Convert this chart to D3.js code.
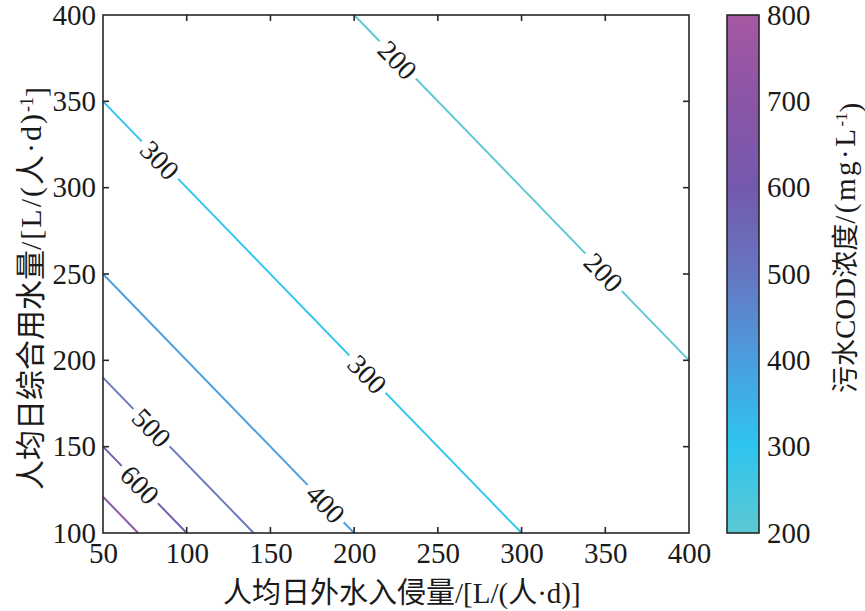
<!DOCTYPE html>
<html>
<head>
    <meta charset="utf-8">
    <title>COD contour</title>
    <script src="https://d3js.org/d3.v7.min.js"></script>
    <style>
        body { margin: 0; background: white; }
        text { font-family: "Liberation Serif", "Times New Roman", "Noto Sans CJK SC", serif; fill: #1a1a1a; }
    </style>
</head>
<body>
    <script>
        // data
        const xTicks = [50, 100, 150, 200, 250, 300, 350, 400];
        const yTicks = [100, 150, 200, 250, 300, 350, 400];
        const cbTicks = [200, 300, 400, 500, 600, 700, 800];

        const levels = [200, 300, 400, 500, 600, 700];
        // each contour is a straight segment: start and end point [x, y]
        const lineStart = [[200, 400], [50, 350], [50, 250], [50, 190], [50, 150], [50, 121]];
        const lineEnd = [[400, 200], [300, 100], [200, 100], [140, 100], [100, 100], [71, 100]];
        // x positions of the inline labels on each contour
        const labelX = [[226, 349], [84, 208], [183], [79], [72], []];

        const width = 865;
        const height = 611;
        const pLeft = 103, pRight = 689, pTop = 15, pBottom = 533;

        const xScale = d3.scaleLinear().domain([50, 400]).range([pLeft, pRight]);
        const yScale = d3.scaleLinear().domain([100, 400]).range([pBottom, pTop]);
        const cScale = d3.scaleLinear().domain([200, 800]).range([pBottom, pTop]);

        // colormap stops (value -> colour)
        const cmapVals = [200, 300, 400, 500, 600, 700, 800];
        const cmapCols = ["#5cc8d3", "#2ec5ef", "#4a9ede", "#6676c2", "#7459ae", "#8a55a6", "#a658a2"];
        const color = d3.scaleLinear().domain(cmapVals).range(cmapCols);

        const svg = d3.select("body").append("svg")
            .attr("width", width)
            .attr("height", height);

        const axisColor = "#262626";

        // contour lines
        const g = svg.append("g");
        levels.forEach((lv, i) => {
            const p0 = lineStart[i], p1 = lineEnd[i];
            g.append("line")
                .attr("x1", xScale(p0[0])).attr("y1", yScale(p0[1]))
                .attr("x2", xScale(p1[0])).attr("y2", yScale(p1[1]))
                .attr("stroke", color(lv))
                .attr("stroke-width", 1.9);

            const ang = Math.atan2(yScale(p1[1]) - yScale(p0[1]), xScale(p1[0]) - xScale(p0[0])) * 180 / Math.PI;
            labelX[i].forEach(lx => {
                const t = (lx - p0[0]) / (p1[0] - p0[0]);
                const ly = p0[1] + t * (p1[1] - p0[1]);
                const lg = g.append("g")
                    .attr("transform", `translate(${xScale(lx)},${yScale(ly)}) rotate(${ang})`);
                const txt = lg.append("text")
                    .attr("text-anchor", "middle")
                    .attr("dy", "0.35em")
                    .style("font-size", "28px")
                    .text(lv);
                const w = txt.node().getComputedTextLength();
                lg.insert("rect", "text")
                    .attr("x", -w / 2 - 5).attr("y", -5)
                    .attr("width", w + 10).attr("height", 10)
                    .attr("fill", "white");
            });
        });

        // box and ticks
        svg.append("rect")
            .attr("x", pLeft).attr("y", pTop)
            .attr("width", pRight - pLeft).attr("height", pBottom - pTop)
            .attr("fill", "none").attr("stroke", axisColor).attr("stroke-width", 1.6);

        const tl = 6;
        const xAxis = d3.axisBottom(xScale).tickValues(xTicks).tickSize(0).tickPadding(9);
        const yAxis = d3.axisLeft(yScale).tickValues(yTicks).tickSize(0).tickPadding(7);

        const xg = svg.append("g").attr("transform", `translate(0,${pBottom})`).call(xAxis);
        const yg = svg.append("g").attr("transform", `translate(${pLeft},0)`).call(yAxis);
        [xg, yg].forEach(a => {
            a.select(".domain").remove();
            a.selectAll("text").style("font-size", "29px").attr("fill", "#1a1a1a")
                .style("font-family", "'Liberation Serif', serif");
        });

        // inward ticks on all four sides
        const tk = svg.append("g").attr("stroke", axisColor).attr("stroke-width", 1.6);
        xTicks.slice(1, -1).forEach(v => {
            tk.append("line").attr("x1", xScale(v)).attr("x2", xScale(v)).attr("y1", pBottom).attr("y2", pBottom - tl);
            tk.append("line").attr("x1", xScale(v)).attr("x2", xScale(v)).attr("y1", pTop).attr("y2", pTop + tl);
        });
        yTicks.slice(1, -1).forEach(v => {
            tk.append("line").attr("y1", yScale(v)).attr("y2", yScale(v)).attr("x1", pLeft).attr("x2", pLeft + tl);
            tk.append("line").attr("y1", yScale(v)).attr("y2", yScale(v)).attr("x1", pRight).attr("x2", pRight - tl);
        });

        // axis titles
        const xt = svg.append("text")
            .attr("x", 223).attr("y", 603)
            .attr("text-anchor", "start")
            .style("font-size", "29px");
        xt.append("tspan").text("人均日外水入侵量/[L/(人·d)]");

        const yt = svg.append("text")
            .attr("transform", `translate(41,490) rotate(-90)`)
            .attr("text-anchor", "start")
            .style("font-size", "30px");
        yt.append("tspan").text("人均日综合用水量");
        yt.append("tspan").style("letter-spacing", "2px").text("/[L/(人·d)");
        yt.append("tspan").attr("dy", "-0.45em").style("font-size", "18px").text("-1");
        yt.append("tspan").attr("dy", "0.45em").text("]");

        // colorbar
        const cbX = 727, cbW = 32;
        const defs = svg.append("defs");
        const grad = defs.append("linearGradient").attr("id", "cmap")
            .attr("x1", 0).attr("y1", 1).attr("x2", 0).attr("y2", 0);
        cmapVals.forEach((v, i) => {
            grad.append("stop")
                .attr("offset", (v - 200) / 600)
                .attr("stop-color", cmapCols[i]);
        });
        svg.append("rect")
            .attr("x", cbX).attr("y", pTop)
            .attr("width", cbW).attr("height", pBottom - pTop)
            .attr("fill", "url(#cmap)")
            .attr("stroke", axisColor).attr("stroke-width", 1.6);

        const cAxis = d3.axisRight(cScale).tickValues(cbTicks).tickSize(0).tickPadding(8);
        const cg = svg.append("g").attr("transform", `translate(${cbX + cbW},0)`).call(cAxis);
        cg.select(".domain").remove();
        cg.selectAll("text").style("font-size", "29px").attr("fill", "#1a1a1a")
            .style("font-family", "'Liberation Serif', serif");
        cbTicks.slice(1, -1).forEach(v => {
            tk.append("line").attr("y1", cScale(v)).attr("y2", cScale(v))
                .attr("x1", cbX + cbW).attr("x2", cbX + cbW - tl);
        });

        const ct = svg.append("text")
            .attr("transform", `translate(855,393) rotate(-90)`)
            .attr("text-anchor", "start")
            .style("font-size", "27px");
        ct.append("tspan").text("污水");
        ct.append("tspan").style("font-size", "29px").text("COD");
        ct.append("tspan").text("浓度");
        ct.append("tspan").style("font-size", "29px").style("letter-spacing", "2.5px").text("/(mg·L");
        ct.append("tspan").attr("dy", "-0.45em").style("font-size", "17px").text("-1");
        ct.append("tspan").attr("dy", "0.45em").style("font-size", "29px").text(")");
    </script>
</body>
</html>
